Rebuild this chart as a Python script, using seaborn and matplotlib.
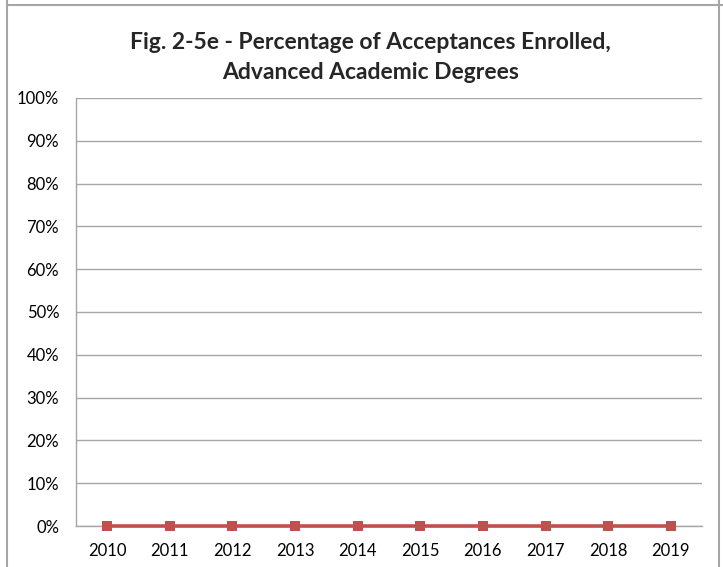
import numpy as np
import pandas as pd
import matplotlib
matplotlib.use("Agg")
import matplotlib.pyplot as plt
import seaborn as sns
from matplotlib.lines import Line2D
from matplotlib.ticker import PercentFormatter

# dados (todos os anos em 0%)
anos = ['2010', '2011', '2012', '2013', '2014', '2015', '2016', '2017', '2018', '2019']
pct_matriculados = [0, 0, 0, 0, 0, 0, 0, 0, 0, 0]

df = pd.DataFrame({'Ano': anos, 'Pct': pct_matriculados})

sns.set_style('white')
plt.rcParams['font.family'] = ['Lato', 'DejaVu Sans']

fig = plt.figure(figsize=(7.23, 5.67), dpi=100)
ax = fig.add_axes([0.105, 0.0723, 0.866, 0.755])

sns.lineplot(data=df, x='Ano', y='Pct', ax=ax, color='#C0504D', linewidth=2.6,
             marker='s', markersize=7, markeredgewidth=0, sort=False)
for linha in ax.lines:
    linha.set_clip_on(False)
    linha.set_zorder(5)

ax.set_xlim(-0.5, len(anos) - 0.5)
ax.set_ylim(0, 100)
ax.set_yticks(np.arange(0, 101, 10))
ax.yaxis.set_major_formatter(PercentFormatter(decimals=0))
ax.grid(axis='y', color='#A6A6A6', linewidth=1)
ax.set_axisbelow(True)
ax.set_xlabel('')
ax.set_ylabel('')
ax.tick_params(axis='both', length=0, labelsize=12, colors='black')
ax.tick_params(axis='x', pad=12)
ax.tick_params(axis='y', pad=12)

for lado in ['top', 'right']:
    ax.spines[lado].set_visible(False)
for lado in ['left', 'bottom']:
    ax.spines[lado].set_color('#A6A6A6')
    ax.spines[lado].set_linewidth(1)

fig.text(0.512, 0.943, 'Fig. 2-5e - Percentage of Acceptances Enrolled,\nAdvanced Academic Degrees',
         ha='center', va='top', fontsize=16.5, fontweight='bold', linespacing=1.5)

# bordas da celula
fig.add_artist(Line2D([0.0097, 1], [0.991, 0.991], color='#A6A6A6', linewidth=1.5))
fig.add_artist(Line2D([0.0097, 0.0097], [0, 1], color='#A6A6A6', linewidth=1.5))
fig.add_artist(Line2D([0.9945, 0.9945], [0, 1], color='#A6A6A6', linewidth=1.5))

fig.savefig('out.png', dpi=100)
